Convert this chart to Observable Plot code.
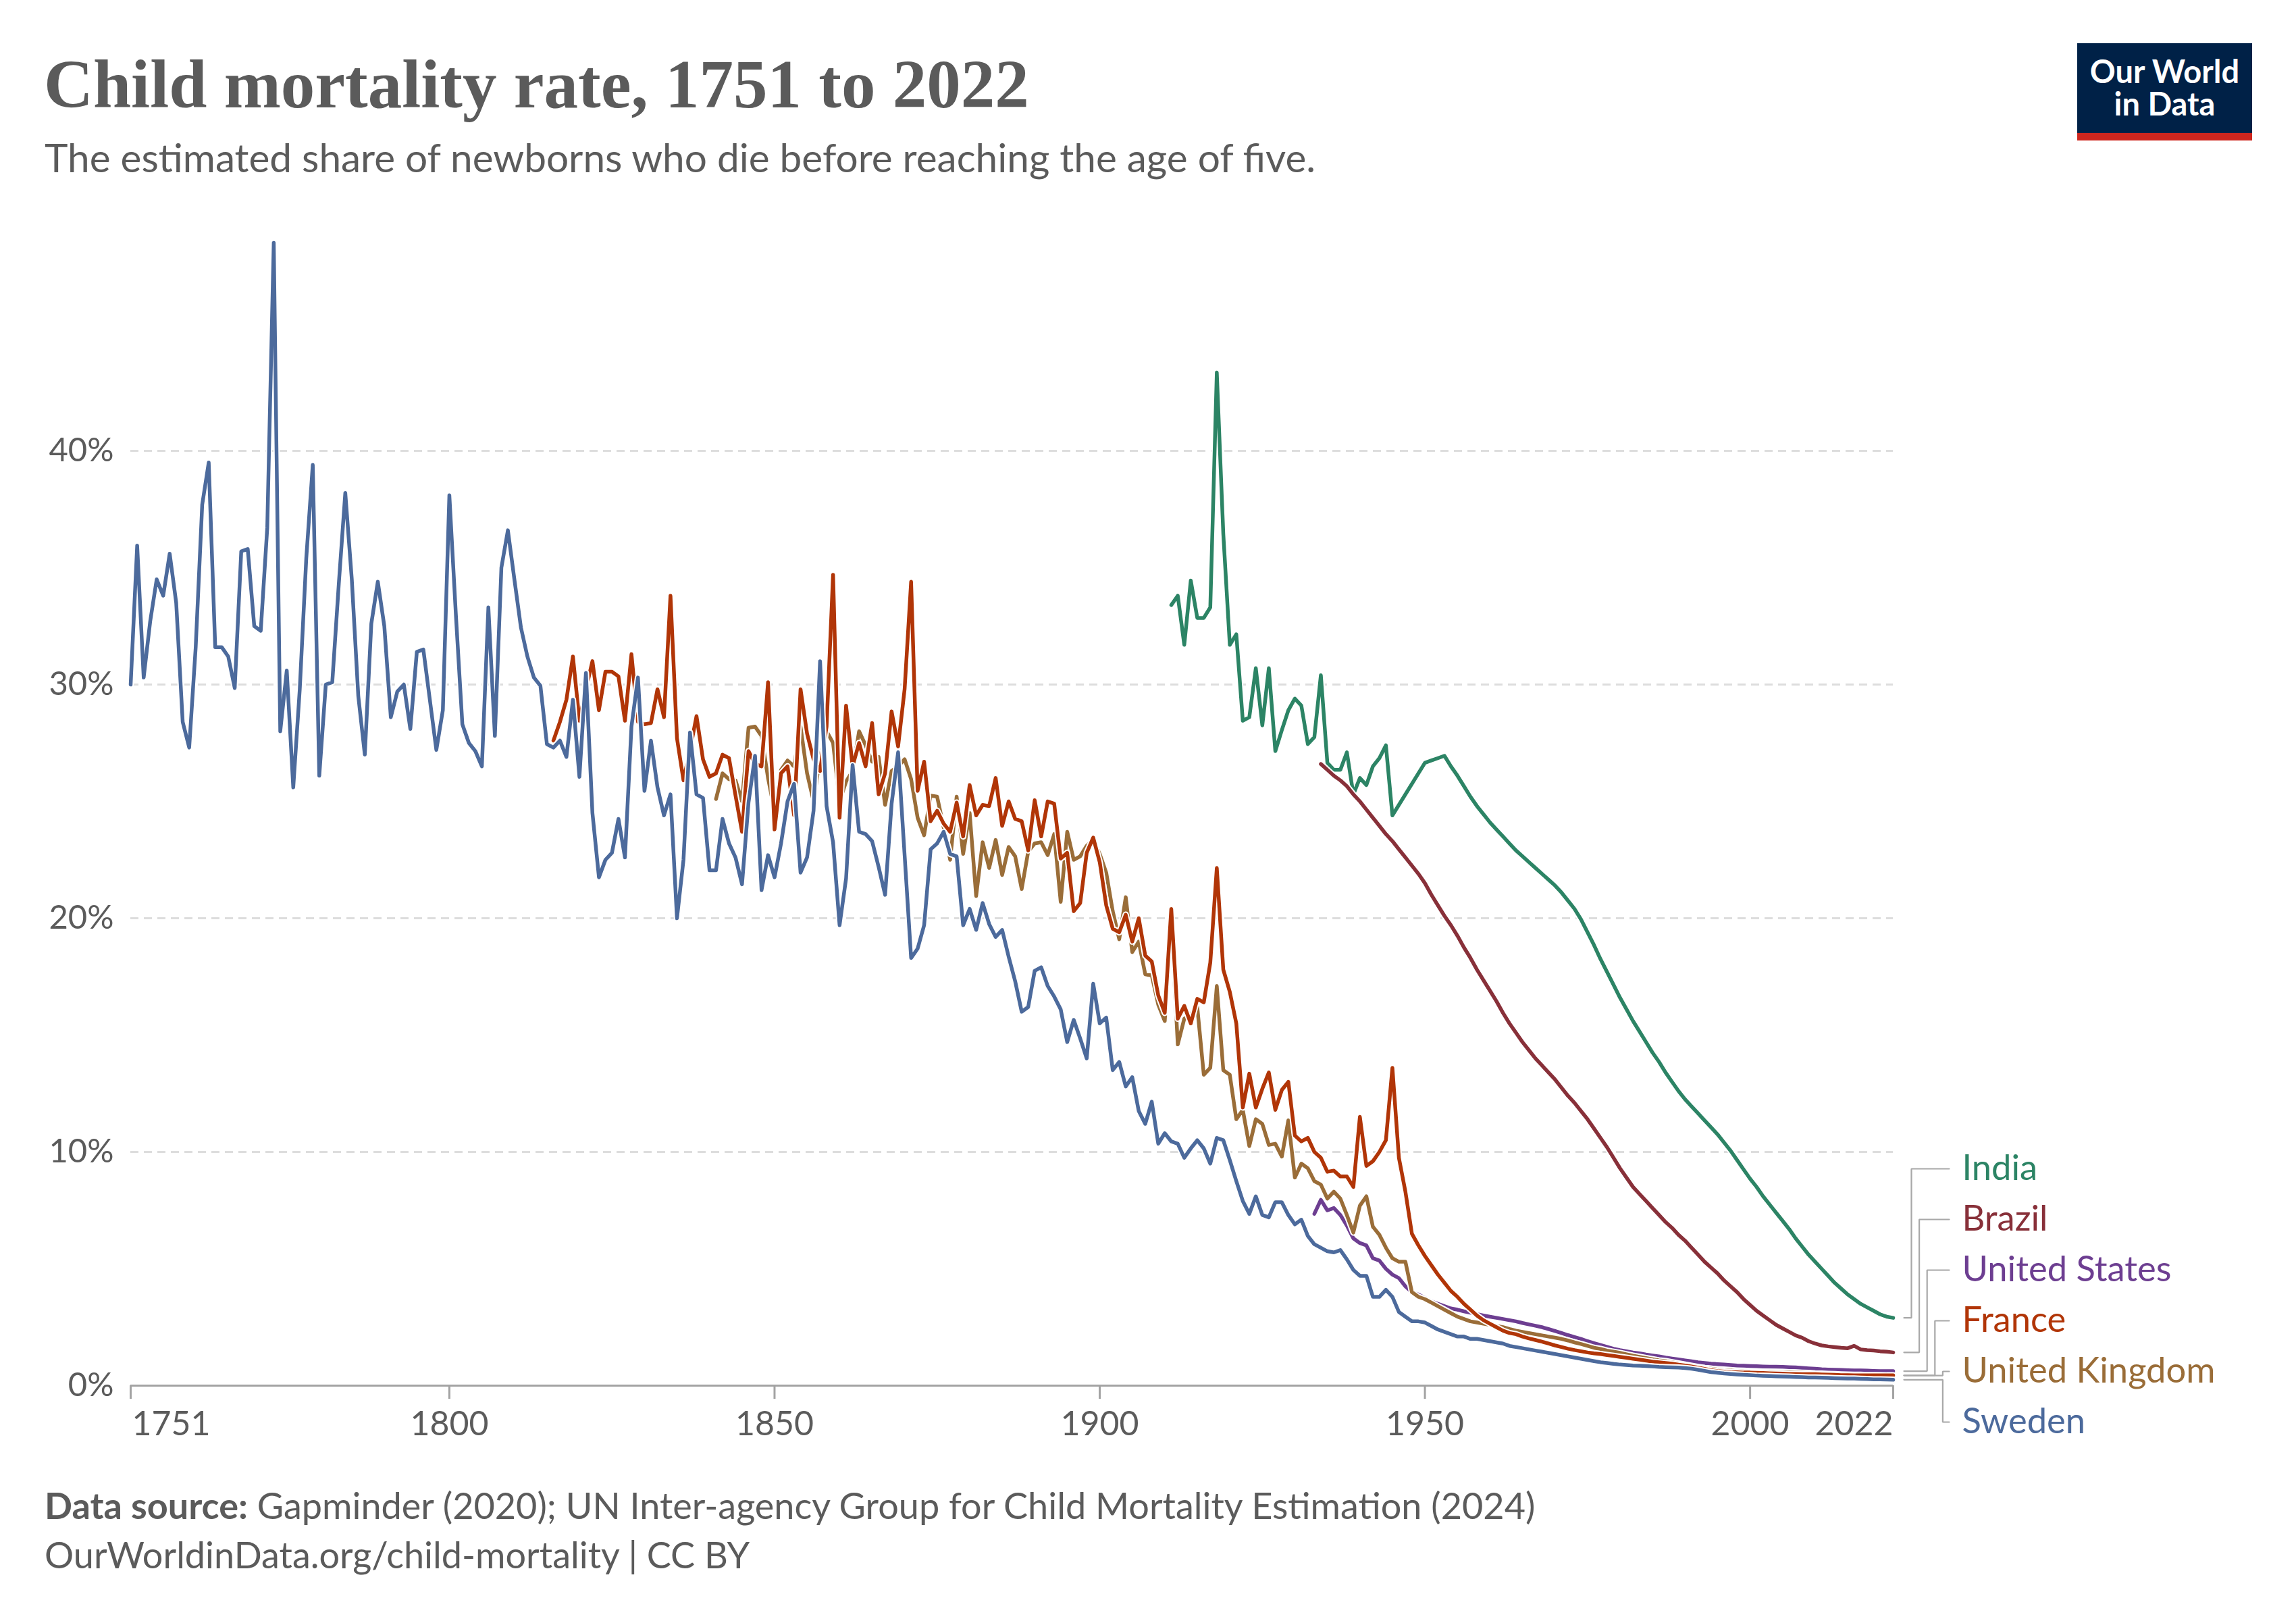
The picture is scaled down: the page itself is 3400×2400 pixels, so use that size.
<!DOCTYPE html>
<html>
<head>
<meta charset="utf-8">
<script src="https://cdn.jsdelivr.net/npm/d3@7"></script>
<script src="https://cdn.jsdelivr.net/npm/@observablehq/plot@0.6"></script>
<style>
html, body { margin: 0; padding: 0; background: #fff; }
#page { position: relative; width: 3400px; height: 2400px; overflow: hidden; font-family: Lato, sans-serif; background: #fff; }
#header { position: relative; width: 3400px; height: 300px; }
#title { position: absolute; left: 65px; top: 75px; font-family: "Liberation Serif", serif; font-weight: 700; font-size: 101px; line-height: 1; color: #5b5b5b; white-space: nowrap; }
#subtitle { position: absolute; left: 66px; top: 203px; font-size: 58.5px; line-height: 1; color: #5b5b5b; white-space: nowrap; }
#logo { position: absolute; left: 3076px; top: 64px; width: 259px; height: 144px; background: #002147; }
#logo .bar { position: absolute; left: 0; bottom: 0; width: 100%; height: 11px; background: #ce261e; }
#logo .t { position: absolute; left: 0; top: 17px; width: 100%; text-align: center; color: #fff; font-weight: 700; font-size: 47px; line-height: 48px; }
#chart { width: 3400px; height: 1860px; }
#footer { position: relative; width: 3400px; height: 240px; }
.f { position: absolute; left: 66px; font-size: 54px; line-height: 1; color: #5b5b5b; white-space: nowrap; }
.f b { font-weight: 700; }
</style>
</head>
<body>
<div id="page">
  <div id="header">
    <div id="title">Child mortality rate, 1751 to 2022</div>
    <div id="subtitle">The estimated share of newborns who die before reaching the age of five.</div>
    <div id="logo">
      <div class="t">Our World<br>in Data</div>
      <div class="bar"></div>
    </div>
  </div>
  <div id="chart"></div>
  <div id="footer">
    <div class="f" style="top:42px"><b>Data source:</b> Gapminder (2020); UN Inter-agency Group for Child Mortality Estimation (2024)</div>
    <div class="f" style="top:115px">OurWorldinData.org/child-mortality | CC BY</div>
  </div>
</div>
<script>
// ---- Data (percent of newborns dying before age five), annual values ----
const swedenStart = 1751;
const sweden = [
  30.0, 35.95, 30.3, 32.7, 34.5, 33.8, 35.6, 33.5, 28.4, 27.3,
  31.6, 37.7, 39.5, 31.6, 31.6, 31.2, 29.85, 35.7, 35.8, 32.5,
  32.3, 36.7, 48.9, 28.0, 30.6, 25.6, 29.8, 35.4, 39.4, 26.1,
  30.0, 30.1, 34.3, 38.2, 34.5, 29.5, 27.0, 32.6, 34.4, 32.5,
  28.6, 29.7, 30.0, 28.1, 31.4, 31.5, 29.35, 27.2, 28.9, 38.1,
  33.0, 28.3, 27.5, 27.15, 26.5, 33.3, 27.8, 35.0, 36.6, 34.5,
  32.45, 31.2, 30.3, 29.95, 27.45, 27.3, 27.6, 26.9, 29.35, 26.05,
  30.5, 24.5, 21.75, 22.5, 22.8, 24.25, 22.6, 28.2, 30.3, 25.45,
  27.6, 25.6, 24.4, 25.3, 20.0, 22.5, 27.95, 25.3, 25.15, 22.05,
  22.05, 24.25, 23.2, 22.6, 21.45, 24.95, 26.95, 21.2, 22.7, 21.75,
  23.2, 25.0, 25.75, 21.95, 22.6, 24.6, 31.0, 24.8, 23.25, 19.7,
  21.7, 26.55, 23.7, 23.6, 23.3, 22.2, 21.0, 24.9, 27.1, 22.7,
  18.3, 18.7, 19.7, 22.95, 23.2, 23.7, 22.75, 22.65, 19.7, 20.4,
  19.5, 20.65, 19.75, 19.2, 19.5, 18.35, 17.3, 16.0, 16.2, 17.75,
  17.9, 17.1, 16.65, 16.1, 14.7, 15.65, 14.85, 14.0, 17.2, 15.5,
  15.75, 13.5, 13.85, 12.8, 13.2, 11.75, 11.2, 12.15, 10.35, 10.8,
  10.45, 10.35, 9.75, 10.15, 10.5, 10.15, 9.5, 10.6, 10.5, 9.65,
  8.75, 7.9, 7.35, 8.1, 7.3, 7.2, 7.85, 7.85, 7.3, 6.9,
  7.1, 6.4, 6.05, 5.9, 5.75, 5.7, 5.8, 5.4, 4.95, 4.7,
  4.7, 3.8, 3.8, 4.1, 3.8, 3.15, 2.95, 2.75, 2.75, 2.7,
  2.55, 2.4, 2.3, 2.2, 2.1, 2.1, 2.0, 2.0, 1.95, 1.9,
  1.85, 1.8, 1.7, 1.65, 1.6, 1.55, 1.5, 1.45, 1.4, 1.35,
  1.3, 1.25, 1.2, 1.15, 1.1, 1.05, 1.0, 0.97, 0.93, 0.9,
  0.88, 0.86, 0.85, 0.84, 0.82, 0.8, 0.79, 0.78, 0.77, 0.75,
  0.72, 0.68, 0.63, 0.58, 0.55, 0.52, 0.5, 0.48, 0.46, 0.45,
  0.43, 0.42, 0.41, 0.4, 0.39, 0.38, 0.37, 0.36, 0.35, 0.35,
  0.34, 0.33, 0.32, 0.31, 0.3, 0.3, 0.29, 0.28, 0.27, 0.27,
  0.26, 0.25
];

const franceStart = 1816;
const france = [
  27.6, 28.4, 29.35, 31.2, 28.45,
  29.8, 31.0, 28.9, 30.55, 30.55, 30.35, 28.45, 31.3, 28.4, 28.3,
  28.35, 29.8, 28.6, 33.8, 27.7, 25.9, 27.2, 28.65, 26.8, 26.05,
  26.2, 27.0, 26.85, 25.25, 23.7, 27.15, 26.6, 26.5, 30.1, 23.8,
  26.2, 26.5, 24.4, 29.8, 27.9, 26.8, 26.3, 28.2, 34.7, 24.3,
  29.1, 26.5, 27.5, 26.5, 28.35, 25.3, 26.2, 28.85, 27.35, 29.8,
  34.4, 25.45, 26.7, 24.15, 24.6, 24.05, 23.7, 24.95, 23.5, 25.7,
  24.4, 24.85, 24.8, 26.0, 23.95, 25.0, 24.25, 24.15, 22.9, 25.05,
  23.5, 25.0, 24.9, 22.55, 22.8, 20.3, 20.65, 22.8, 23.45, 22.4,
  20.55, 19.55, 19.4, 20.15, 19.0, 20.0, 18.4, 18.15, 16.7, 15.95,
  20.4, 15.7, 16.25, 15.5, 16.55, 16.4, 18.1, 22.15, 17.8, 16.85,
  15.5, 11.9, 13.35, 11.9, 12.7, 13.4, 11.8, 12.65, 13.0, 10.7,
  10.45, 10.6, 10.0, 9.75, 9.15, 9.2, 8.95, 8.95, 8.5, 11.5,
  9.4, 9.6, 10.0, 10.5, 13.6, 9.75, 8.3, 6.5, 6.0, 5.55,
  5.15, 4.75, 4.4, 4.05, 3.8, 3.5, 3.25, 3.0, 2.8, 2.65,
  2.5, 2.35, 2.25, 2.2, 2.1, 2.02, 1.95, 1.88, 1.8, 1.72,
  1.65, 1.58, 1.52, 1.47, 1.42, 1.38, 1.35, 1.31, 1.27, 1.23,
  1.19, 1.15, 1.11, 1.07, 1.03, 1.0, 0.97, 0.94, 0.9, 0.86,
  0.82, 0.77, 0.72, 0.66, 0.62, 0.6, 0.58, 0.57, 0.56, 0.56,
  0.55, 0.54, 0.53, 0.52, 0.51, 0.5, 0.5, 0.49, 0.49, 0.49,
  0.48, 0.47, 0.46, 0.45, 0.45, 0.44, 0.44, 0.44, 0.44, 0.44,
  0.44, 0.44
];

const ukStart = 1841;
const uk = [
  25.1, 26.2, 25.95, 25.9, 25.0, 28.15, 28.2, 27.8, 26.0, 24.6,
  26.35, 26.75, 26.5, 28.2, 26.2, 25.0, 26.9, 28.0, 27.5, 25.0,
  25.85, 26.3, 28.0, 27.4, 26.7, 26.9, 24.85, 26.3, 26.5, 26.8,
  25.95, 24.3, 23.55, 25.25, 25.2, 23.9, 22.5, 25.2, 22.75, 24.5,
  20.95, 23.25, 22.15, 23.35, 21.85, 23.05, 22.65, 21.25, 22.85, 23.2,
  23.25, 22.7, 23.6, 20.7, 23.7, 22.5, 22.65, 23.1, 23.35, 22.75,
  21.95, 20.3, 19.1, 20.9, 18.55, 19.0, 17.6, 17.55, 16.3, 15.6,
  20.0, 14.6, 15.7, 15.9, 16.2, 13.3, 13.6, 17.1, 13.5, 13.3,
  11.4, 11.8, 10.25, 11.4, 11.2, 10.3, 10.35, 9.8, 11.35, 8.9,
  9.5, 9.3, 8.75, 8.6, 8.0, 8.3, 8.0, 7.3, 6.55, 7.7,
  8.1, 6.8, 6.45, 5.9, 5.45, 5.3, 5.3, 4.0, 3.8, 3.7,
  3.55, 3.4, 3.25, 3.1, 2.95, 2.85, 2.75, 2.7, 2.65, 2.6,
  2.55, 2.5, 2.42, 2.35, 2.3, 2.25, 2.2, 2.15, 2.1, 2.05,
  2.0, 1.93, 1.85, 1.78, 1.7, 1.62, 1.57, 1.5, 1.45, 1.4,
  1.34, 1.28, 1.23, 1.18, 1.13, 1.08, 1.05, 1.0, 0.95, 0.9,
  0.85, 0.8, 0.75, 0.72, 0.69, 0.66, 0.64, 0.62, 0.61, 0.6,
  0.6, 0.59, 0.59, 0.58, 0.58, 0.57, 0.56, 0.55, 0.54, 0.52,
  0.51, 0.5, 0.49, 0.48, 0.47, 0.46, 0.46, 0.45, 0.45, 0.44,
  0.43, 0.43
];

const usStart = 1933;
const us = [
  7.35, 7.95, 7.5, 7.6, 7.3, 6.85, 6.3, 6.1,
  6.0, 5.45, 5.35, 5.0, 4.75, 4.6, 4.25, 4.0, 3.9, 3.75,
  3.6, 3.5, 3.4, 3.3, 3.25, 3.18, 3.12, 3.06, 3.0, 2.95,
  2.9, 2.85, 2.8, 2.75, 2.68, 2.62, 2.56, 2.5, 2.42, 2.34,
  2.25, 2.16, 2.08, 2.0, 1.9, 1.82, 1.74, 1.66, 1.58, 1.52,
  1.47, 1.42, 1.38, 1.33, 1.29, 1.25, 1.2, 1.16, 1.12, 1.08,
  1.04, 1.0, 0.97, 0.94, 0.92, 0.9, 0.88, 0.86, 0.85, 0.84,
  0.83, 0.82, 0.81, 0.81, 0.8, 0.79, 0.78, 0.76, 0.74, 0.72,
  0.7, 0.69, 0.68, 0.67, 0.66, 0.65, 0.65, 0.64, 0.63, 0.62,
  0.62, 0.62
];

// India: no values for 1946-1949 (line joins 1945 to 1950)
const indiaStart = 1911;
const india = [
  33.4, 33.8, 31.7, 34.45, 32.85, 32.85, 33.3, 43.35, 36.45, 31.7,
  32.15, 28.45, 28.6, 30.7, 28.25, 30.7, 27.15, 28.05, 28.9, 29.4,
  29.1, 27.45, 27.75, 30.4, 26.65, 26.35, 26.35, 27.1, 25.3, 26.0,
  25.7, 26.5, 26.85, 27.4, 24.4, null, null, null, null, 26.65,
  26.75, 26.85, 26.95, 26.5, 26.1, 25.65, 25.2, 24.8, 24.45, 24.1,
  23.8, 23.5, 23.2, 22.9, 22.65, 22.4, 22.15, 21.9, 21.65, 21.4,
  21.1, 20.75, 20.4, 19.95, 19.4, 18.85, 18.25, 17.7, 17.15, 16.6,
  16.1, 15.6, 15.15, 14.7, 14.25, 13.85, 13.4, 13.0, 12.6, 12.25,
  11.95, 11.65, 11.35, 11.05, 10.75, 10.4, 10.05, 9.65, 9.25, 8.85,
  8.5, 8.1, 7.75, 7.4, 7.05, 6.7, 6.3, 5.95, 5.6, 5.3,
  5.0, 4.7, 4.4, 4.15, 3.9, 3.7, 3.5, 3.35, 3.2, 3.05,
  2.95, 2.9
];

const brazilStart = 1934;
const brazil = [
  26.6, 26.35, 26.1, 25.9, 25.65, 25.3, 25.0,
  24.65, 24.3, 23.95, 23.6, 23.3, 22.95, 22.6, 22.25, 21.9, 21.5,
  21.0, 20.55, 20.1, 19.7, 19.25, 18.75, 18.3, 17.8, 17.35, 16.9,
  16.45, 15.95, 15.5, 15.1, 14.7, 14.35, 14.0, 13.7, 13.4, 13.1,
  12.75, 12.4, 12.1, 11.75, 11.4, 11.0, 10.6, 10.2, 9.75, 9.3,
  8.9, 8.5, 8.2, 7.9, 7.6, 7.3, 7.0, 6.75, 6.45, 6.2,
  5.9, 5.6, 5.3, 5.05, 4.8, 4.5, 4.25, 4.0, 3.7, 3.45,
  3.2, 3.0, 2.8, 2.6, 2.45, 2.3, 2.15, 2.05, 1.9, 1.8,
  1.72, 1.68, 1.65, 1.62, 1.6, 1.7, 1.55, 1.52, 1.5, 1.47,
  1.45, 1.42
];

const countries = ["India", "Brazil", "United States", "France", "United Kingdom", "Sweden"];
const countryColors = ["#2c8465", "#883039", "#6d3e91", "#b13507", "#9a6d38", "#4c6a9c"];
const drawOrder = ["India", "Brazil", "United States", "United Kingdom", "France", "Sweden"];
const yTicks = [0, 10, 20, 30, 40];
const xTicks = [1751, 1800, 1850, 1900, 1950, 2000, 2022];

// ---- Build table ----
function rowsOf(name, start, values) {
  return values.map((v, i) => ({name, year: start + i, value: v})).filter(d => d.value != null);
}
const table = [
  ...rowsOf("Sweden", swedenStart, sweden),
  ...rowsOf("France", franceStart, france),
  ...rowsOf("United Kingdom", ukStart, uk),
  ...rowsOf("United States", usStart, us),
  ...rowsOf("India", indiaStart, india),
  ...rowsOf("Brazil", brazilStart, brazil)
];

// ---- Layout ----
const W = 3400, H = 1860, mL = 193, mR = 597, mT = 21, mB = 109;
const x0 = 1751, x1 = 2022, yMax = 50;
const pxPerYear = (W - mL - mR) / (x1 - x0);
const pxPerPct = (H - mT - mB) / yMax;
const xpx = px => x1 + px / pxPerYear;    // pixel offset right of plot end -> x data
const ypx = px => -px / pxPerPct;          // pixel offset below baseline -> y data

// end labels: stack upward from a floor, keeping at least one label height apart
const ends = countries.map(name => {
  const rows = table.filter(d => d.name === name);
  return {name, end: rows[rows.length - 1].value};
});
const order = ends.slice().sort((a, b) => b.end - a.end);
const gap = 75 / pxPerPct;
let prev = 0;
for (let i = order.length - 1; i >= 0; i--) {
  const o = order[i];
  o.labelY = i === order.length - 1 ? ypx(54) : Math.max(o.end, prev + gap);
  prev = o.labelY;
}
const connectors = [];
order.forEach((o, i) => {
  const ex = xpx(27 + 11.6 * Math.min(i, order.length - 2));
  connectors.push({name: o.name, x: xpx(16), y: o.end});
  connectors.push({name: o.name, x: ex, y: o.end});
  connectors.push({name: o.name, x: ex, y: o.labelY});
  connectors.push({name: o.name, x: xpx(83), y: o.labelY});
});

const textColor = "#5b5b5b";
const marks = [
  Plot.ruleY(yTicks.filter(d => d > 0), {stroke: "#dddddd", strokeWidth: 3, strokeDasharray: "12,8"}),
  Plot.text(yTicks, {frameAnchor: "left", y: d => d, text: d => d + "%", textAnchor: "end", dx: -25, fontSize: 49, fill: textColor}),
  Plot.ruleY([0], {stroke: "#a3a3a3", strokeWidth: 3}),
  Plot.ruleX(xTicks, {x: d => d, y1: 0, y2: ypx(20), stroke: "#a3a3a3", strokeWidth: 3}),
  Plot.text([xTicks[0]], {x: d => d, y: 0, dy: 57, dx: 2, text: d => String(d), textAnchor: "start", fontSize: 50, fill: textColor}),
  Plot.text(xTicks.slice(1, -1), {x: d => d, y: 0, dy: 57, text: d => String(d), textAnchor: "middle", fontSize: 50, fill: textColor}),
  Plot.text([xTicks[xTicks.length - 1]], {x: d => d, y: 0, dy: 57, text: d => String(d), textAnchor: "end", fontSize: 50, fill: textColor})
];
for (const name of drawOrder) {
  const rows = table.filter(d => d.name === name);
  marks.push(Plot.line(rows, {x: "year", y: "value", stroke: "white", strokeWidth: 9.5}));
  marks.push(Plot.line(rows, {x: "year", y: "value", stroke: "name", strokeWidth: 5.5}));
}
marks.push(Plot.line(connectors, {x: "x", y: "y", z: "name", stroke: "#a8a8a8", strokeWidth: 2.2, strokeLinejoin: "miter"}));
marks.push(Plot.text(order, {x: xpx(102), y: "labelY", text: "name", fill: "name", textAnchor: "start", fontSize: 52.5}));

const chart = Plot.plot({
  width: W, height: H,
  marginLeft: mL, marginRight: mR, marginTop: mT, marginBottom: mB,
  x: {domain: [x0, x1], axis: null},
  y: {domain: [0, yMax], axis: null},
  color: {domain: countries, range: countryColors},
  style: {fontFamily: "Lato, sans-serif", background: "transparent", overflow: "visible"},
  marks
});
document.getElementById("chart").appendChild(chart);
</script>
</body>
</html>
